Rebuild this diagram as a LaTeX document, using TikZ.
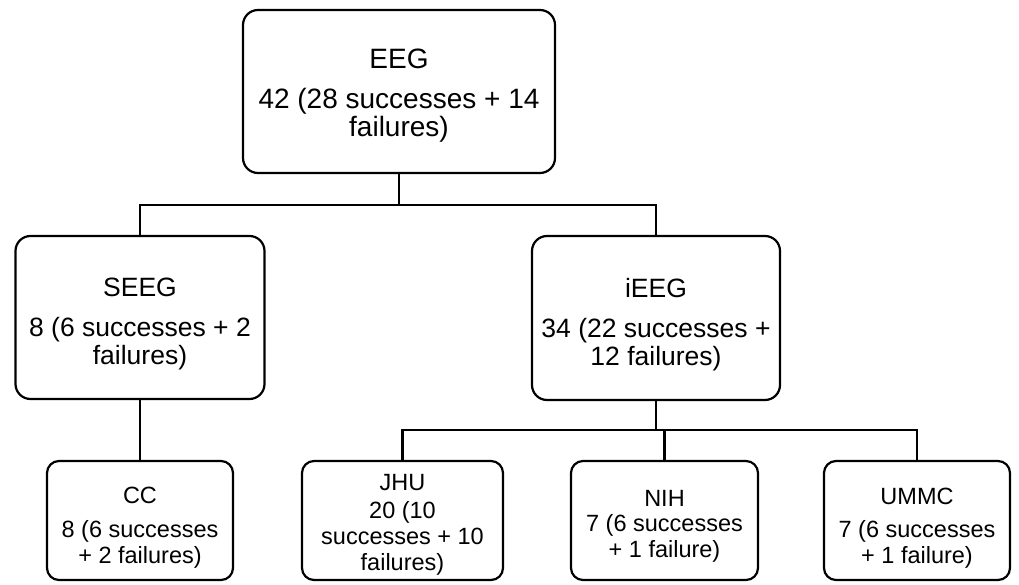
\documentclass[tikz,border=0pt]{standalone}
\usepackage{fontspec}
\setmainfont{Liberation Sans}
\newcommand{\dn}[1]{\rule{0pt}{#1}}
\begin{document}
\begin{tikzpicture}[x=1pt,y=-1pt,
  box/.style={draw=black,line width=2.2pt,rounded corners=15pt,align=center,inner sep=0pt,fill=white},
  topbox/.style={box,font=\fontsize{28}{28}\selectfont},
  bigbox/.style={box,font=\fontsize{26.5}{28}\selectfont},
  smallbox/.style={box,rounded corners=12pt,font=\fontsize{23.5}{26}\selectfont},
  link/.style={line width=2.2pt}]
\useasboundingbox (0,0) rectangle (1019,585);
\node[topbox,minimum width=312pt,minimum height=163pt] (EEG) at (399,91.5) {\dn{28.6pt}EEG\\[12pt]42 (28 successes + 14\\failures)};
\node[bigbox,minimum width=249pt,minimum height=163pt] (SEEG) at (140,317.5) {\dn{32pt}SEEG\\[12pt]8 (6 successes + 2\\failures)};
\node[bigbox,minimum width=248pt,minimum height=164pt] (iEEG) at (656,318) {\dn{32pt}iEEG\\[12pt]34 (22 successes +\\12 failures)};
\node[smallbox,minimum width=186pt,minimum height=119pt] (CC) at (140,520.5) {\dn{30pt}CC\\[8pt]8 (6 successes\\+ 2 failures)};
\node[smallbox,minimum width=201pt,minimum height=119pt] (JHU) at (402.5,520.5) {\dn{24pt}JHU\\[2pt]20 (10\\successes + 10\\failures)};
\node[smallbox,minimum width=187pt,minimum height=119pt] (NIH) at (664.5,520.5) {\dn{28pt}NIH\\[-1pt]7 (6 successes\\+ 1 failure)};
\node[smallbox,minimum width=186pt,minimum height=119pt] (UMMC) at (917,520.5) {\dn{31pt}UMMC\\[7pt]7 (6 successes\\+ 1 failure)};
\coordinate (b1) at (399,205);
\coordinate (b2) at (656,430);
\draw[link] (EEG.south) -- (b1) -| (SEEG.north);
\draw[link] (b1) -| (iEEG.north);
\draw[link] (SEEG.south) -- (CC.north);
\draw[link] (iEEG.south) -- (b2) -| (JHU.north);
\draw[link] (b2) -| (NIH.north);
\draw[link] (b2) -| (UMMC.north);
\end{tikzpicture}
\end{document}
